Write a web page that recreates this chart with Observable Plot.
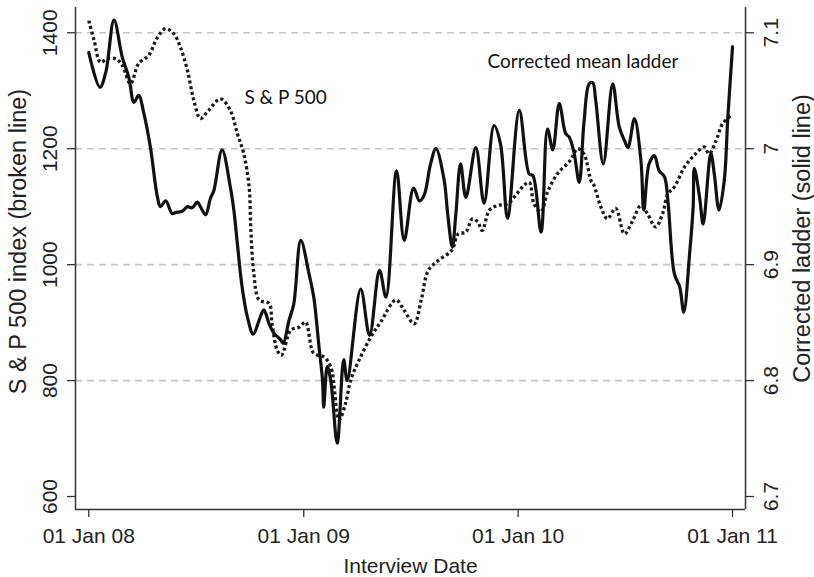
<!DOCTYPE html>
<html><head><meta charset="utf-8">
<script src="https://cdn.jsdelivr.net/npm/d3@7"></script>
<script src="https://cdn.jsdelivr.net/npm/@observablehq/plot@0.6"></script>
<style>body{margin:0;background:#fff}</style>
</head><body><div id="chart"></div>
<script>
// Corrected mean ladder (solid line, right axis)
const ladderDates = ["2008-01-01","2008-01-20","2008-01-30","2008-02-13","2008-02-27","2008-03-09","2008-03-18","2008-03-26","2008-04-04","2008-04-15","2008-04-27","2008-05-02","2008-05-11","2008-05-22","2008-05-28","2008-06-08","2008-06-17","2008-06-25","2008-07-04","2008-07-09","2008-07-18","2008-07-26","2008-08-01","2008-08-15","2008-08-29","2008-09-04","2008-09-10","2008-09-18","2008-09-27","2008-10-07","2008-10-17","2008-10-25","2008-11-03","2008-11-11","2008-11-23","2008-11-27","2008-12-07","2008-12-15","2008-12-27","2009-01-10","2009-01-18","2009-01-27","2009-02-02","2009-02-04","2009-02-10","2009-02-16","2009-02-27","2009-03-10","2009-03-16","2009-04-08","2009-04-23","2009-05-10","2009-05-21","2009-06-08","2009-06-21","2009-07-07","2009-07-17","2009-07-25","2009-08-05","2009-08-14","2009-08-28","2009-09-03","2009-09-11","2009-09-17","2009-09-25","2009-10-04","2009-10-21","2009-11-04","2009-11-21","2009-12-02","2009-12-14","2010-01-03","2010-01-20","2010-01-26","2010-02-09","2010-02-20","2010-03-01","2010-03-12","2010-03-23","2010-03-29","2010-04-06","2010-04-15","2010-04-23","2010-05-02","2010-05-08","2010-05-13","2010-05-26","2010-06-11","2010-06-22","2010-07-01","2010-07-07","2010-07-18","2010-07-29","2010-08-03","2010-08-12","2010-08-21","2010-08-29","2010-09-07","2010-09-13","2010-09-24","2010-10-03","2010-10-10","2010-10-20","2010-10-26","2010-10-28","2010-11-06","2010-11-12","2010-11-25","2010-12-01","2010-12-09","2010-12-18","2010-12-24","2011-01-01"];
const ladderValues = [7.083,7.053,7.066,7.111,7.079,7.062,7.040,7.046,7.030,7.001,6.958,6.950,6.955,6.944,6.945,6.946,6.950,6.949,6.954,6.950,6.943,6.957,6.964,6.999,6.967,6.947,6.918,6.881,6.855,6.840,6.852,6.861,6.849,6.841,6.835,6.832,6.852,6.866,6.921,6.892,6.872,6.829,6.800,6.777,6.812,6.800,6.746,6.818,6.800,6.879,6.839,6.895,6.872,6.981,6.921,6.966,6.955,6.960,6.987,7.000,6.973,6.944,6.915,6.944,6.987,6.958,7.001,6.953,7.020,7.004,6.940,7.033,6.978,6.977,6.928,7.017,6.999,7.039,7.013,7.010,6.997,6.971,7.022,7.056,7.057,7.042,6.987,7.056,7.019,7.007,7.001,7.026,6.990,6.947,6.987,6.994,6.981,6.976,6.955,6.892,6.881,6.859,6.910,6.950,6.983,6.958,6.935,6.996,6.978,6.947,6.973,7.027,7.088];

// S & P 500 index (broken line, left axis)
const spDates = ["2008-01-01","2008-01-10","2008-01-21","2008-02-01","2008-02-16","2008-02-27","2008-03-12","2008-03-26","2008-04-12","2008-04-27","2008-05-11","2008-05-25","2008-06-05","2008-06-17","2008-06-28","2008-07-09","2008-07-23","2008-08-12","2008-08-29","2008-09-10","2008-09-21","2008-09-30","2008-10-03","2008-10-08","2008-10-17","2008-11-03","2008-11-08","2008-11-17","2008-11-24","2008-12-10","2008-12-24","2009-01-04","2009-01-18","2009-02-04","2009-02-16","2009-03-02","2009-03-13","2009-03-22","2009-04-05","2009-04-25","2009-05-12","2009-06-07","2009-06-21","2009-07-08","2009-07-20","2009-08-01","2009-08-18","2009-09-10","2009-09-21","2009-10-04","2009-10-15","2009-10-24","2009-11-01","2009-11-13","2009-11-27","2009-12-14","2009-12-28","2010-01-11","2010-01-20","2010-01-28","2010-02-09","2010-02-20","2010-03-09","2010-03-31","2010-04-12","2010-04-23","2010-05-05","2010-05-10","2010-05-22","2010-06-02","2010-06-16","2010-07-01","2010-07-15","2010-07-29","2010-08-09","2010-08-23","2010-09-04","2010-09-13","2010-09-24","2010-10-11","2010-10-28","2010-11-14","2010-11-22","2010-12-04","2010-12-15","2010-12-29"];
const spValues = [1421,1387,1349,1355,1355,1344,1312,1347,1361,1392,1407,1398,1375,1335,1283,1252,1266,1286,1266,1226,1191,1134,1059,985,939,933,898,852,844,887,892,901,847,841,824,732,760,801,835,875,901,939,921,898,939,990,1007,1025,1053,1056,1079,1074,1059,1094,1102,1105,1120,1137,1142,1105,1091,1125,1157,1180,1200,1191,1145,1137,1099,1079,1097,1053,1076,1102,1088,1065,1088,1122,1134,1168,1189,1203,1191,1214,1243,1257];

const spTicks = [600, 800, 1000, 1200, 1400];
const gridValues = [800, 1000, 1200, 1400];
const ladderTicks = [6.7, 6.8, 6.9, 7, 7.1];
const xTickDates = ["2008-01-01", "2009-01-01", "2010-01-01", "2011-01-01"];

const annotationLabels = ["S & P 500", "Corrected mean ladder"];
const annotationDates = ["2008-09-22", "2009-11-10"];
const annotationSP = [1288, null];
const annotationLadder = [null, 7.075];

const toSP = L => 600 + (L - 6.7) * 2000;
const fromSP = v => 6.7 + (v - 600) / 2000;
const parse = d3.utcParse("%Y-%m-%d");

const ladder = ladderDates.map((d, i) => ({date: parse(d), value: toSP(ladderValues[i])}));
const sp = spDates.map((d, i) => ({date: parse(d), value: spValues[i]}));
const annotations = annotationLabels.map((t, i) => ({
  label: t, date: parse(annotationDates[i]),
  value: annotationSP[i] != null ? annotationSP[i] : toSP(annotationLadder[i])
}));

const xDomain = [new Date(Date.UTC(2007, 11, 9, 10)), new Date(Date.UTC(2011, 0, 23, 2))];
const yDomain = [577.6, 1443.6];
const axisColor = "#333";
const AF = "Liberation Sans";
const FS = 21;
const TS = 23.5;

const chart = Plot.plot({
  width: 814, height: 577,
  marginLeft: 75, marginRight: 69, marginTop: 7, marginBottom: 68,
  style: {fontFamily: AF, fontSize: "21px", color: "#222", background: "#fff"},
  x: {type: "utc", domain: xDomain},
  y: {domain: yDomain},
  marks: [
    Plot.gridY(gridValues, {stroke: "#c4c4c4", strokeOpacity: 1, strokeWidth: 1.6, strokeDasharray: "7,5"}),
    Plot.ruleX(xDomain, {stroke: axisColor, strokeWidth: 1.5}),
    Plot.ruleY([yDomain[0]], {stroke: axisColor, strokeWidth: 1.5}),
    Plot.axisY(spTicks, {anchor: "left", tickSize: 8, tickRotate: -90, tickPadding: 11, label: null, stroke: axisColor, strokeWidth: 1.3,
      fontFamily: AF, fontSize: FS, tickFormat: d => String(d)}),
    Plot.axisY(ladderTicks.map(toSP), {anchor: "right", tickSize: 8, tickRotate: -90, lineAnchor: "top", tickPadding: 10, label: null, stroke: axisColor, strokeWidth: 1.3,
      fontFamily: AF, fontSize: FS, tickFormat: d => String(+fromSP(d).toFixed(2))}),
    Plot.axisX(xTickDates.map(parse), {anchor: "bottom", tickSize: 8, tickPadding: 11, label: null, stroke: axisColor, strokeWidth: 1.3,
      fontFamily: AF, fontSize: FS, tickFormat: d3.utcFormat("%d %b %y")}),
    Plot.line(sp, {x: "date", y: "value", curve: "catmull-rom", stroke: "#1a1a1a", strokeWidth: 3.3, strokeDasharray: "3,2.7", strokeLinecap: "butt"}),
    Plot.line(ladder, {x: "date", y: "value", curve: "catmull-rom", stroke: "#111", strokeWidth: 3.2}),
    Plot.text(annotations, {x: "date", y: "value", text: "label", textAnchor: "start", lineAnchor: "middle", fontFamily: "Lato", fontSize: 19, fill: "#111"}),
    Plot.text(["S & P 500 index (broken line)"], {frameAnchor: "left", dx: -57, dy: -17, rotate: -90, textAnchor: "middle", lineAnchor: "middle", fontFamily: AF, fontSize: TS, fill: "#222"}),
    Plot.text(["Corrected ladder (solid line)"], {frameAnchor: "right", dx: 57, dy: -20, rotate: -90, textAnchor: "middle", lineAnchor: "middle", fontFamily: AF, fontSize: TS, fill: "#222"}),
    Plot.text(["Interview Date"], {frameAnchor: "bottom", dy: 63, lineAnchor: "bottom", fontFamily: AF, fontSize: FS, fill: "#222"})
  ]
});
document.getElementById("chart").appendChild(chart);
</script>
</body></html>
